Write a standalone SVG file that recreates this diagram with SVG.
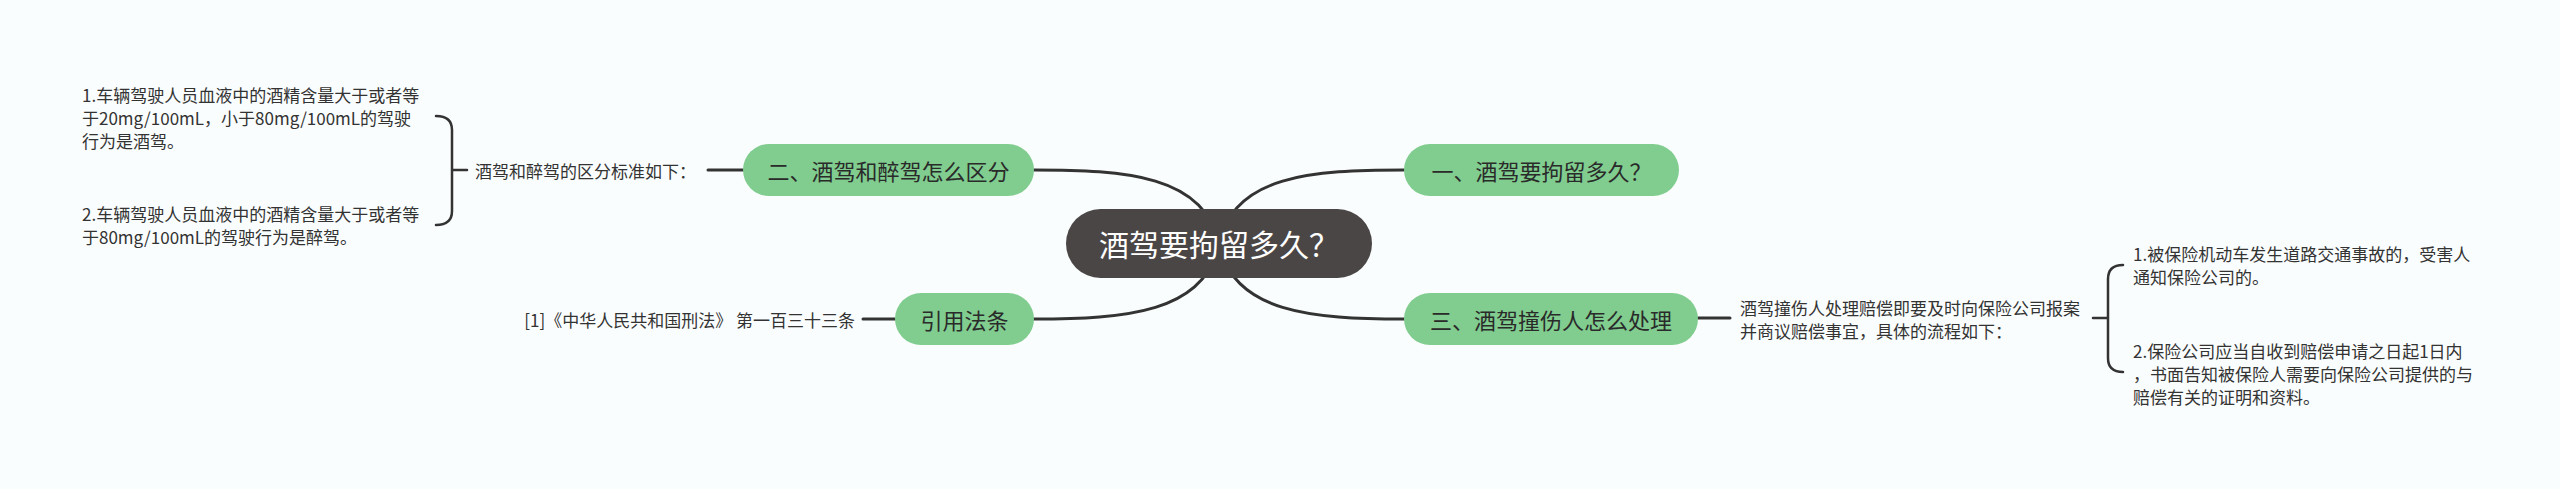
<svg xmlns="http://www.w3.org/2000/svg" width="2560" height="489" viewBox="0 0 2560 489">
<style>
.bg{fill:#fafdfd}
.conn{fill:none;stroke:#333333;stroke-width:3;stroke-linecap:round}
.brk{fill:none;stroke:#333333;stroke-width:2.5;stroke-linecap:round}
.n1{fill:#80cd8f}
.root{fill:#4b4646}
.t1{font-family:"Noto Sans CJK SC","Noto Sans",sans-serif;font-size:22px;fill:#2a2a2a;text-anchor:middle;dominant-baseline:central}
.t0{font-family:"Noto Sans CJK SC","Noto Sans",sans-serif;font-size:30px;fill:#ffffff;text-anchor:middle;dominant-baseline:central}
.t2{font-family:"Noto Sans CJK SC","Noto Sans",sans-serif;font-size:17px;fill:#333333;dominant-baseline:central}
</style>
<rect class="bg" x="0" y="0" width="2560" height="489"/>
<g id="connectors">
<path class="conn" d="M1219,244 C1205,175 1125,170 1034,170"/>
<path class="conn" d="M1219,244 C1233,175 1313,170 1404,170"/>
<path class="conn" d="M1219,244 C1205,313 1125,319 1034,319"/>
<path class="conn" d="M1219,244 C1233,313 1313,319 1404,319"/>
<path class="conn" d="M708,170 L743,170"/>
<path class="conn" d="M863,319 L895,319"/>
<path class="conn" d="M1698,318 L1730,318"/>
<path class="brk" d="M436,116 Q452,116 452,130 L452,211 Q452,225 436,225 M452,170 L467,170"/>
<path class="brk" d="M2123,265 Q2108,265 2108,279 L2108,358 Q2108,372 2123,372 M2108,318 L2093,318"/>
</g>
<g id="root">
<rect class="root" x="1066" y="209" width="306" height="69" rx="34.5"/>
<text class="t0" x="1219" y="243">酒驾要拘留多久？</text>
</g>
<g id="node-er">
<rect class="n1" x="743" y="144" width="291" height="52" rx="26"/>
<text class="t1" x="888.5" y="170">二、酒驾和醉驾怎么区分</text>
</g>
<g id="node-yi">
<rect class="n1" x="1404" y="144" width="275" height="52" rx="26"/>
<text class="t1" x="1541.5" y="170">一、酒驾要拘留多久？</text>
</g>
<g id="node-yinyong">
<rect class="n1" x="895" y="293" width="139" height="52" rx="26"/>
<text class="t1" x="964.5" y="319">引用法条</text>
</g>
<g id="node-san">
<rect class="n1" x="1404" y="293" width="294" height="52" rx="26"/>
<text class="t1" x="1551" y="319">三、酒驾撞伤人怎么处理</text>
</g>
<g id="node-qufen">
<text class="t2" x="475" y="170">酒驾和醉驾的区分标准如下：</text>
</g>
<g id="node-jiujia">
<text class="t2" x="82" y="94">1.车辆驾驶人员血液中的酒精含量大于或者等</text>
<text class="t2" x="82" y="117">于20mg/100mL，小于80mg/100mL的驾驶</text>
<text class="t2" x="82" y="140">行为是酒驾。</text>
</g>
<g id="node-zuijia">
<text class="t2" x="82" y="213">2.车辆驾驶人员血液中的酒精含量大于或者等</text>
<text class="t2" x="82" y="236">于80mg/100mL的驾驶行为是醉驾。</text>
</g>
<g id="node-xingfa">
<text class="t2" x="855" y="319" text-anchor="end">[1]《中华人民共和国刑法》 第一百三十三条</text>
</g>
<g id="node-peichang">
<text class="t2" x="1740" y="307">酒驾撞伤人处理赔偿即要及时向保险公司报案</text>
<text class="t2" x="1740" y="330">并商议赔偿事宜，具体的流程如下：</text>
</g>
<g id="node-step1">
<text class="t2" x="2133" y="253">1.被保险机动车发生道路交通事故的，受害人</text>
<text class="t2" x="2133" y="276">通知保险公司的。</text>
</g>
<g id="node-step2">
<text class="t2" x="2133" y="350">2.保险公司应当自收到赔偿申请之日起1日内</text>
<text class="t2" x="2133" y="373">，书面告知被保险人需要向保险公司提供的与</text>
<text class="t2" x="2133" y="396">赔偿有关的证明和资料。</text>
</g>
</svg>
